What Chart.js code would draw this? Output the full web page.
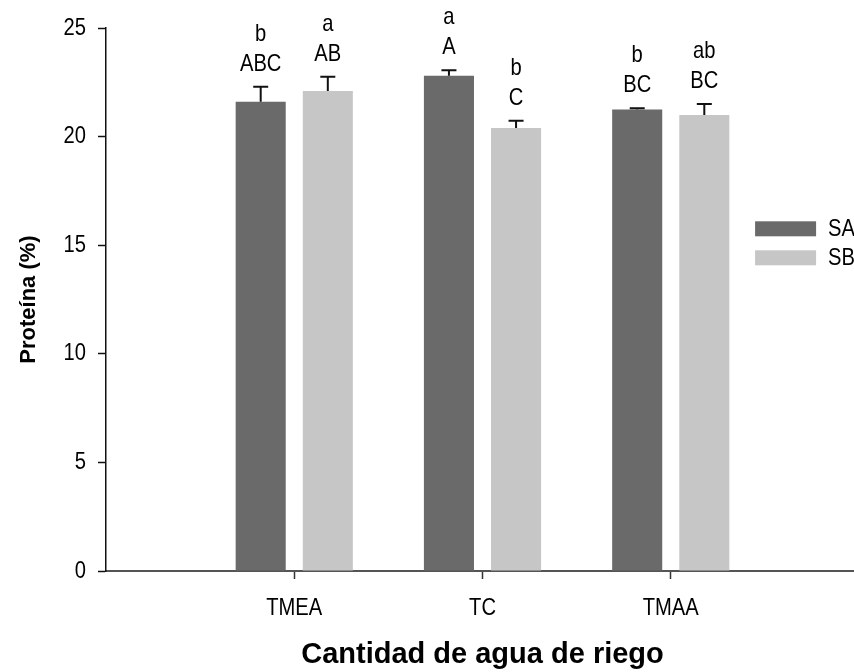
<!DOCTYPE html>
<html>
<head>
<meta charset="utf-8">
<script src="https://cdn.jsdelivr.net/npm/chart.js@4/dist/chart.umd.min.js"></script>
<style>
  html, body { margin: 0; padding: 0; background: #fff; overflow: hidden; }
  #wrap { width: 880px; height: 672px; }
</style>
</head>
<body>
<div id="wrap"><canvas id="chart"></canvas></div>
<script>
// empty slots at both ends so the three groups sit at 1, 2, 3 of a 0..4 axis
const categories = ['', 'TMEA', 'TC', 'TMAA', ''];
const saValues = [null, 21.6, 22.8, 21.25, null];
const sbValues = [null, 22.1, 20.4, 21.0, null];
const saErrors = [0, 0.7, 0.25, 0.05, 0];
const sbErrors = [0, 0.65, 0.33, 0.5, 0];
const saLetters = [null, 'b', 'a', 'b', null];
const saGroups = [null, 'ABC', 'A', 'BC', null];
const sbLetters = [null, 'a', 'b', 'ab', null];
const sbGroups = [null, 'AB', 'C', 'BC', null];
const yTicks = [0, 5, 10, 15, 20, 25];

const sans = '"Liberation Sans", Arial, sans-serif';

// text squeezed a bit sideways, the original uses a narrow face
function narrowText(ctx, text, x, y, size) {
  ctx.save();
  ctx.translate(x, y);
  ctx.scale(0.84, 1);
  ctx.font = size + 'px ' + sans;
  ctx.fillText(text, 0, 0);
  ctx.restore();
}

// upper error bar with cap, plus the significance letters above it
const errorBars = {
  id: 'errorBars',
  afterDatasetsDraw(chart) {
    const ctx = chart.ctx;
    const y = chart.scales.y;
    chart.data.datasets.forEach((ds, i) => {
      chart.getDatasetMeta(i).data.forEach((bar, j) => {
        if (ds.data[j] == null) return;
        const top = y.getPixelForValue(ds.data[j] + ds.errors[j]);
        const base = y.getPixelForValue(ds.data[j]);
        ctx.save();
        ctx.strokeStyle = '#111';
        ctx.lineWidth = 2;
        ctx.beginPath();
        ctx.moveTo(bar.x, base);
        ctx.lineTo(bar.x, top);
        ctx.moveTo(bar.x - 7.5, top);
        ctx.lineTo(bar.x + 7.5, top);
        ctx.stroke();
        ctx.fillStyle = '#000';
        ctx.textAlign = 'center';
        ctx.textBaseline = 'alphabetic';
        narrowText(ctx, ds.groups[j], bar.x, top - 16, 24);
        narrowText(ctx, ds.letters[j], bar.x, top - 46, 24);
        ctx.restore();
      });
    });
  }
};

// tick labels in the narrow look, placed by the scales themselves
const narrowTicks = {
  id: 'narrowTicks',
  afterDraw(chart) {
    const ctx = chart.ctx;
    const xs = chart.scales.x;
    const ys = chart.scales.y;
    ctx.save();
    ctx.fillStyle = '#000';
    ctx.textBaseline = 'middle';
    ctx.textAlign = 'right';
    ys.ticks.forEach((t, i) => narrowText(ctx, t.label, ys.right - 20, ys.getPixelForTick(i), 24));
    ctx.textAlign = 'center';
    xs.ticks.forEach((t, i) => narrowText(ctx, t.label, xs.getPixelForTick(i), xs.top + 37, 24));
    ctx.restore();
  }
};

// legend boxes inside the plot, near the right edge
const boxLegend = {
  id: 'boxLegend',
  afterDraw(chart) {
    const ctx = chart.ctx;
    const area = chart.chartArea;
    const x = area.left + (area.right - area.left) * 0.862;
    const y0 = area.top + (area.bottom - area.top) * 0.356;
    chart.data.datasets.forEach((ds, i) => {
      const y = y0 + i * 29;
      ctx.save();
      ctx.fillStyle = ds.backgroundColor;
      ctx.fillRect(x, y, 61, 15);
      ctx.fillStyle = '#000';
      ctx.textBaseline = 'middle';
      narrowText(ctx, ds.label, x + 73, y + 8, 24);
      ctx.restore();
    });
  }
};

new Chart(document.getElementById('chart'), {
  type: 'bar',
  data: {
    labels: categories,
    datasets: [
      { label: 'SA', data: saValues, errors: saErrors, letters: saLetters, groups: saGroups,
        backgroundColor: '#6a6a6a' },
      { label: 'SB', data: sbValues, errors: sbErrors, letters: sbLetters, groups: sbGroups,
        backgroundColor: '#c6c6c6' }
    ]
  },
  plugins: [errorBars, narrowTicks, boxLegend],
  options: {
    responsive: true,
    maintainAspectRatio: false,
    animation: false,
    categoryPercentage: 0.713,
    barPercentage: 0.746,
    layout: { padding: { top: 28, right: 21, left: 0, bottom: 0 } },
    plugins: { legend: { display: false }, tooltip: { enabled: false } },
    scales: {
      x: {
        offset: false,
        grid: {
          offset: false,
          drawOnChartArea: false,
          tickLength: 8,
          tickWidth: 1.5,
          tickColor: ctx => (ctx.index == 0 || ctx.index == 4) ? 'rgba(0,0,0,0)' : '#333'
        },
        border: { color: '#555', width: 2 },
        // library labels kept for layout only, the narrowTicks plugin draws them
        ticks: { color: 'rgba(0,0,0,0)', padding: 13, font: { family: sans, size: 22 }, maxRotation: 0, autoSkip: false },
        title: {
          display: true,
          text: 'Cantidad de agua de riego',
          color: '#000',
          font: { family: sans, size: 29, weight: 'bold' },
          padding: { top: 0, bottom: 0 }
        },
        afterFit: s => { s.height = 101; }
      },
      y: {
        min: 0,
        max: 25,
        afterBuildTicks: s => { s.ticks = yTicks.map(v => ({ value: v })); },
        grid: { drawOnChartArea: false, tickLength: 8, tickWidth: 1.5, tickColor: '#111' },
        border: { color: '#111', width: 1.5 },
        ticks: { color: 'rgba(0,0,0,0)', padding: 12, font: { family: sans, size: 22 } },
        title: {
          display: true,
          text: 'Proteína (%)',
          color: '#000',
          font: { family: sans, size: 22, weight: 'bold' },
          padding: { top: 16, bottom: 0 }
        },
        afterFit: s => { s.width = 106; }
      }
    }
  }
});
</script>
</body>
</html>
